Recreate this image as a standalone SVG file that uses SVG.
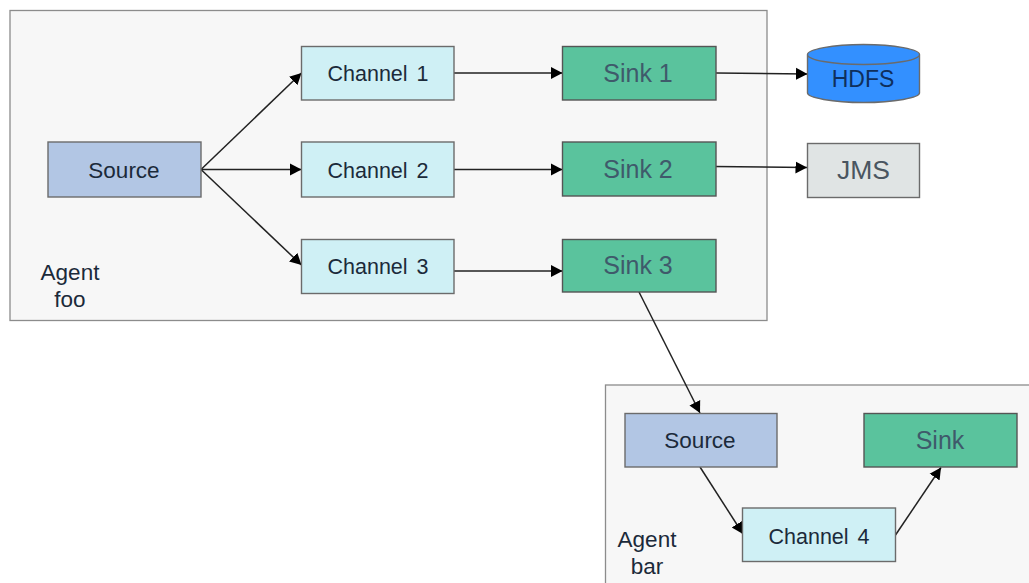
<svg xmlns="http://www.w3.org/2000/svg" width="1029" height="583" viewBox="0 0 1029 583">
<defs>
<marker id="arrow" markerUnits="userSpaceOnUse" markerWidth="13" markerHeight="14" refX="11.500" refY="6.500" orient="auto"><path d="M0,0.500 L11.500,6.500 L0,12.500 Z" fill="#000"/></marker>
</defs>
<style>
text{font-family:"Liberation Sans",Arial,sans-serif;font-size:22.500px;text-anchor:middle;fill:#1b2a3a}
rect,path.c{stroke:#6b6b6b;stroke-width:1.4}
.agent{fill:#f7f7f7;stroke:#8c8c8c;stroke-width:1.3}
.src{fill:#b2c6e4}
.ch{fill:#cff0f5}
.ch+text{font-size:21.500px;word-spacing:3px}
.sink{fill:#5ac39d;stroke:#555}
.sink+text{fill:#3f5a6b;font-size:25px}
.jms{fill:#e0e4e4}
#connectors line{stroke:#222;stroke-width:1.5;marker-end:url(#arrow)}
</style>
<rect class="agent" x="10" y="10.500" width="757" height="310"/>
<rect class="agent" x="605.500" y="385" width="430" height="210"/>
<g id="connectors">
<line x1="201" y1="169.500" x2="301.500" y2="73"/>
<line x1="201" y1="169.500" x2="301.500" y2="169.500"/>
<line x1="201" y1="169.500" x2="301.500" y2="265"/>
<line x1="454" y1="73" x2="562.500" y2="73"/>
<line x1="454" y1="169.500" x2="562.500" y2="169.500"/>
<line x1="454" y1="271" x2="562.500" y2="271"/>
<line x1="716" y1="73" x2="807.500" y2="74"/>
<line x1="714" y1="166.500" x2="807" y2="167.500"/>
<line x1="639" y1="292" x2="700" y2="413"/>
<line x1="700" y1="467" x2="743" y2="534"/>
<line x1="895.500" y1="535" x2="941" y2="467.500"/>
</g>
<g id="agent-foo-label"><text x="70" y="280">Agent</text><text x="70" y="306.500">foo</text></g>
<g id="source-1"><rect class="src" x="48" y="142" width="153" height="55"/><text x="124" y="178">Source</text></g>
<g id="channel-1"><rect class="ch" x="301.500" y="46.500" width="152.500" height="53.500"/><text x="378" y="81">Channel 1</text></g>
<g id="channel-2"><rect class="ch" x="301.500" y="142" width="152.500" height="55"/><text x="378" y="178">Channel 2</text></g>
<g id="channel-3"><rect class="ch" x="301.500" y="239.500" width="152.500" height="54"/><text x="378" y="274">Channel 3</text></g>
<g id="sink-1"><rect class="sink" x="562.500" y="46.500" width="153.500" height="53.500"/><text x="638" y="82">Sink 1</text></g>
<g id="sink-2"><rect class="sink" x="562.500" y="142" width="153.500" height="54"/><text x="638" y="178">Sink 2</text></g>
<g id="sink-3"><rect class="sink" x="562.500" y="239.500" width="153.500" height="52.500"/><text x="638" y="274">Sink 3</text></g>
<g id="hdfs"><path class="c" d="M807.500,54.500 V93 C807.500,97.500 832,102.500 863.500,102.500 C895,102.500 919.500,97.500 919.500,93 V54.500 C919.500,49.500 895,44.500 863.500,44.500 C832,44.500 807.500,49.500 807.500,54.500 C807.500,60 832,64.500 863.500,64.500 C895,64.500 919.500,60 919.500,54.500" fill="#3390ff"/><text x="863" y="87" style="font-size:23px;fill:#0f2f5c">HDFS</text></g>
<g id="jms"><rect class="jms" x="807.500" y="143.500" width="112" height="54"/><text x="863.500" y="179" style="font-size:26.500px;fill:#4a5560">JMS</text></g>
<g id="source-2"><rect class="src" x="625" y="413.500" width="152" height="53.500"/><text x="700" y="448">Source</text></g>
<g id="sink-4"><rect class="sink" x="864" y="413.500" width="153" height="53.500"/><text x="940" y="449">Sink</text></g>
<g id="channel-4"><rect class="ch" x="742.500" y="508" width="153" height="53.500"/><text x="819" y="544">Channel 4</text></g>
<g id="agent-bar-label"><text x="647" y="547">Agent</text><text x="647" y="574">bar</text></g>
</svg>
